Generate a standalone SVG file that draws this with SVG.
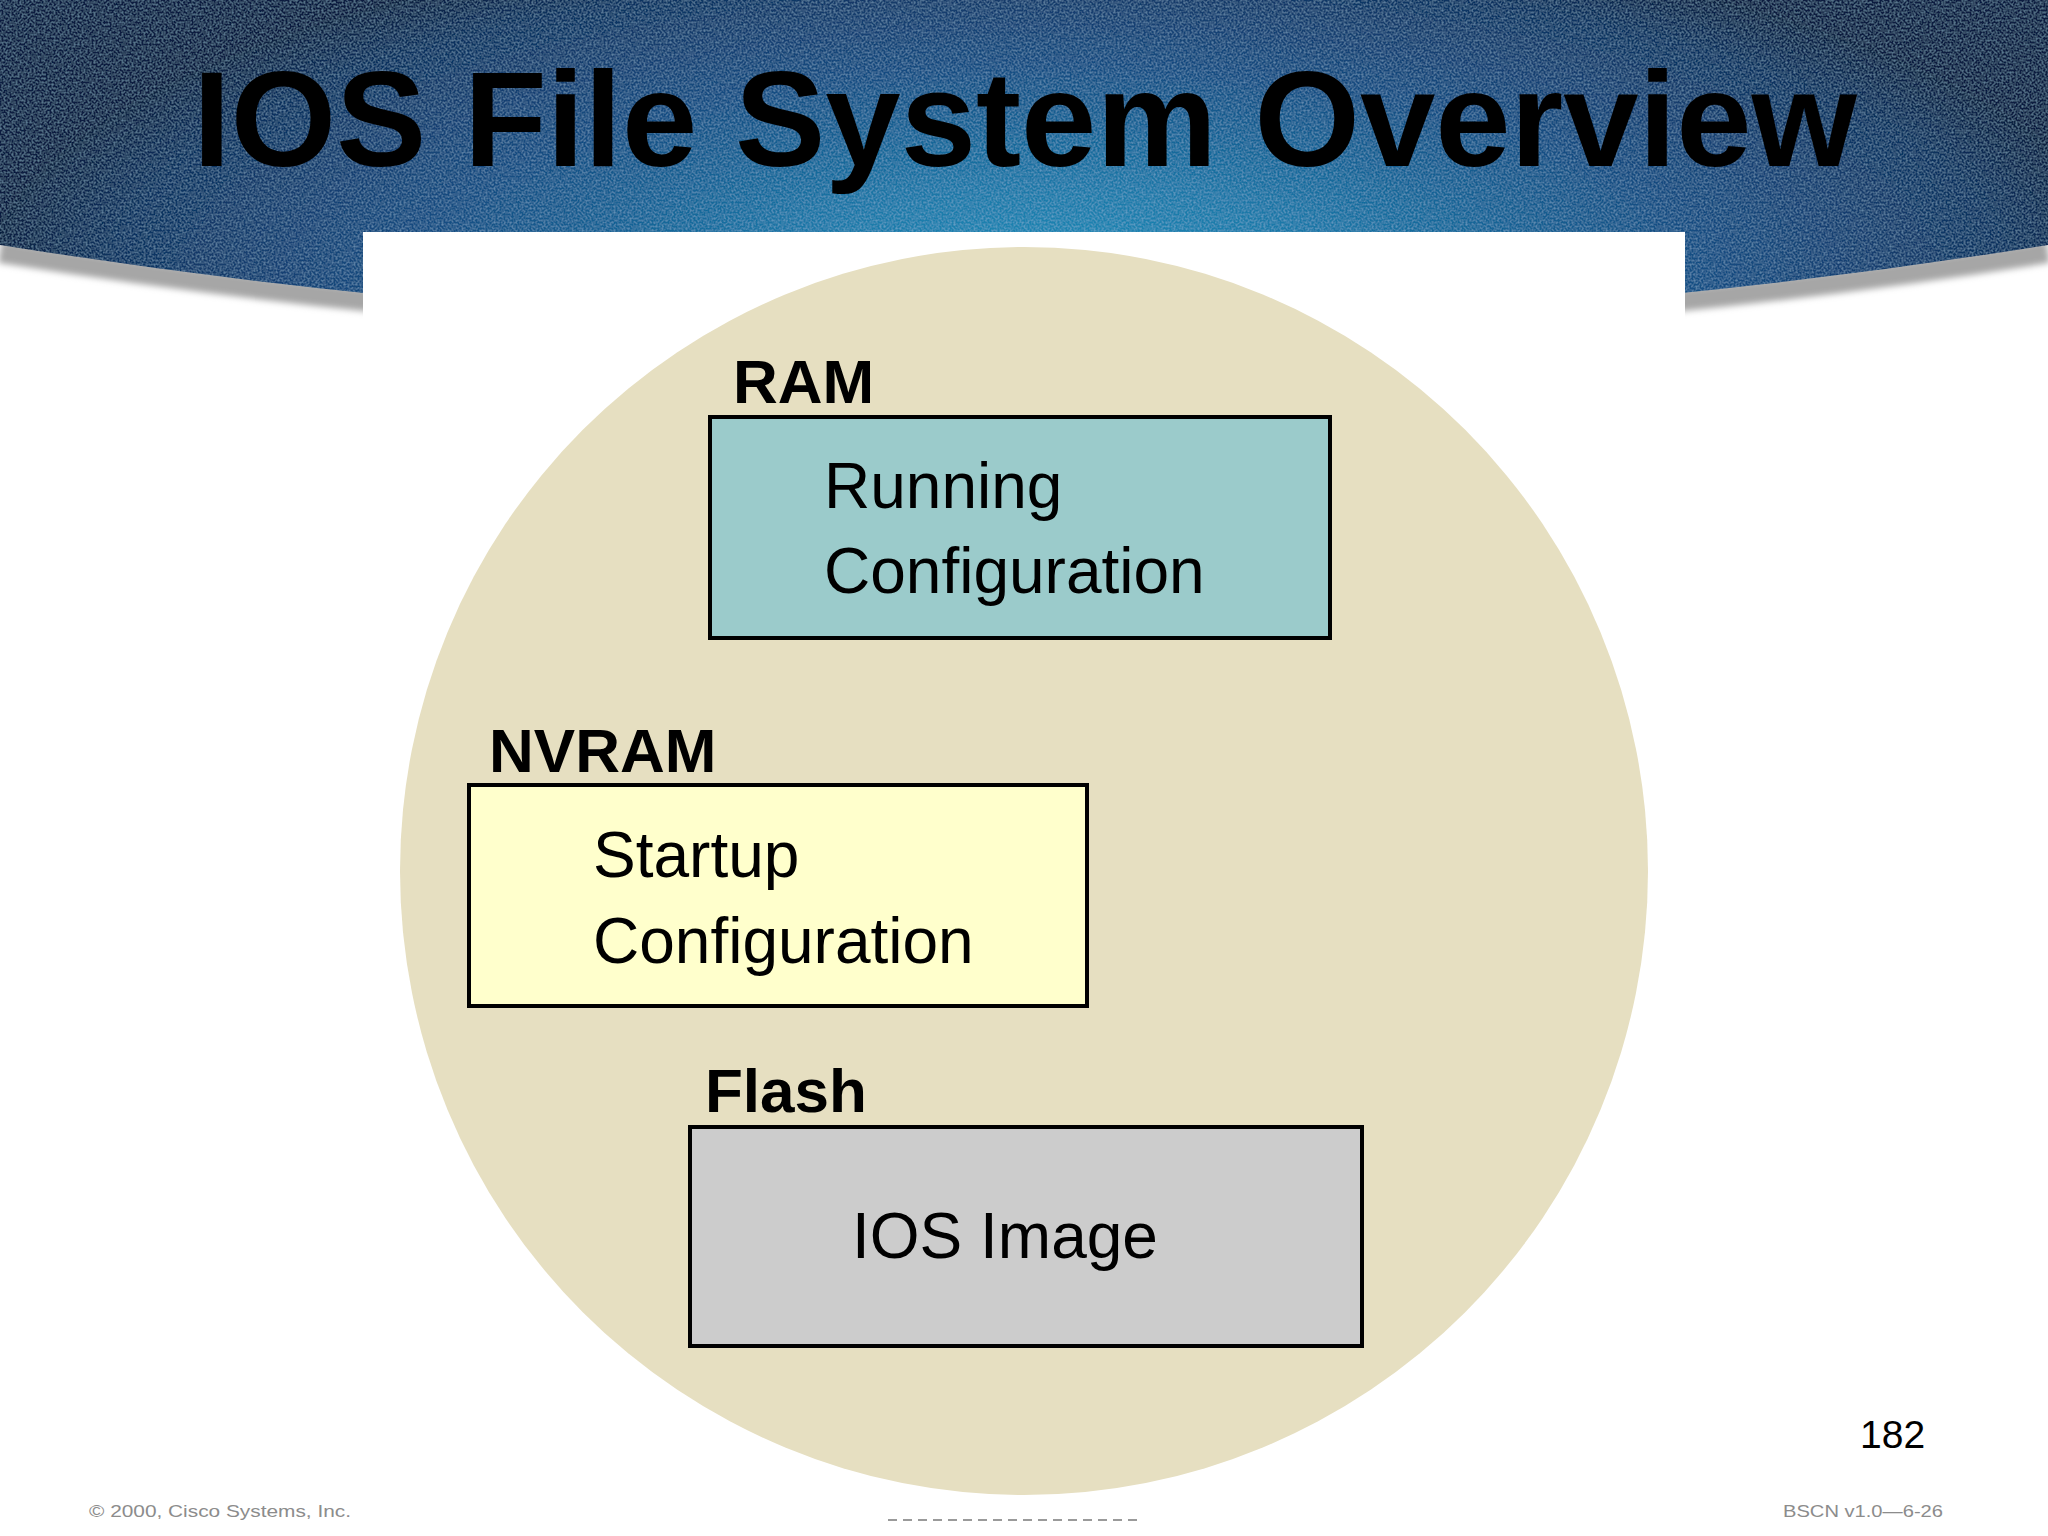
<svg xmlns="http://www.w3.org/2000/svg" width="2048" height="1536" viewBox="0 0 2048 1536">
  <defs>
    <radialGradient id="hdrGrad" gradientUnits="userSpaceOnUse" cx="1060" cy="290" r="1080" gradientTransform="translate(1060 290) scale(1 0.34) translate(-1060 -290)">
      <stop offset="0" stop-color="#1E93BD"/>
      <stop offset="0.3" stop-color="#1A76A6"/>
      <stop offset="0.62" stop-color="#164B80"/>
      <stop offset="0.88" stop-color="#10325F"/>
      <stop offset="1" stop-color="#0A1F40"/>
    </radialGradient>
    <filter id="texture" x="0" y="0" width="1" height="1">
      <feTurbulence type="fractalNoise" baseFrequency="0.5" numOctaves="2" seed="7" result="noise"/>
      <feColorMatrix in="noise" type="matrix" values="0 0 0 0 0.35  0 0 0 0 0.62  0 0 0 0 0.85  0.7 0 0 0 -0.27" result="spk"/>
      <feComposite in="spk" in2="SourceAlpha" operator="in" result="spkIn"/>
      <feMerge>
        <feMergeNode in="SourceGraphic"/>
        <feMergeNode in="spkIn"/>
      </feMerge>
    </filter>
    <filter id="soft" x="-0.05" y="-1" width="1.1" height="3">
      <feGaussianBlur stdDeviation="3"/>
    </filter>
    <style>
      .box { stroke: #000; stroke-width: 4; }
      .label { font-family: "Liberation Sans", Arial, sans-serif; font-weight: bold; font-size: 62px; fill: #000; }
      .body { font-family: "Liberation Sans", Arial, sans-serif; font-size: 64px; fill: #000; }
      .foot { font-family: "Liberation Sans", Arial, sans-serif; font-size: 17px; fill: #8C8C8C; }
    </style>
  </defs>

  <rect x="0" y="0" width="2048" height="1536" fill="#FFFFFF"/>

  <!-- header band -->
  <g id="header">
    <path d="M0,252 Q1024,416 2048,252" fill="none" stroke="#A6A6A6" stroke-width="22" filter="url(#soft)"/>
    <path d="M0,0 H2048 V245 Q1024,409 0,245 Z" fill="url(#hdrGrad)" filter="url(#texture)"/>
  </g>

  <!-- white content panel -->
  <rect x="363" y="232" width="1322" height="1304" fill="#FFFFFF"/>

  <text x="193" y="166" font-family="'Liberation Sans', Arial, sans-serif" font-weight="bold" font-size="136" fill="#000" textLength="1664" lengthAdjust="spacingAndGlyphs">IOS File System Overview</text>

  <!-- memory circle -->
  <circle id="memory-circle" cx="1024" cy="871" r="624" fill="#E6DFC1"/>

  <g id="connectors"></g>

  <g id="ram">
    <text class="label" x="733" y="403">RAM</text>
    <rect class="box" x="710" y="417" width="620" height="221" fill="#9BCBCB"/>
    <text class="body" x="824" y="508">Running</text>
    <text class="body" x="824" y="593">Configuration</text>
  </g>

  <g id="nvram">
    <text class="label" x="489" y="772">NVRAM</text>
    <rect class="box" x="469" y="785" width="618" height="221" fill="#FFFFCC"/>
    <text class="body" x="593" y="877">Startup</text>
    <text class="body" x="593" y="963">Configuration</text>
  </g>

  <g id="flash">
    <text class="label" x="705" y="1112">Flash</text>
    <rect class="box" x="690" y="1127" width="672" height="219" fill="#CCCCCC"/>
    <text class="body" x="852" y="1258">IOS Image</text>
  </g>

  <text x="1860" y="1448" font-family="'Liberation Sans', Arial, sans-serif" font-size="39" fill="#000">182</text>

  <g id="footer">
    <text class="foot" x="89" y="1517" textLength="262" lengthAdjust="spacingAndGlyphs">© 2000, Cisco Systems, Inc.</text>
    <line x1="888" y1="1520" x2="1137" y2="1520" stroke="#9A9A9A" stroke-width="2" stroke-dasharray="9 6"/>
    <text class="foot" x="1783" y="1517" textLength="160" lengthAdjust="spacingAndGlyphs">BSCN v1.0—6-26</text>
  </g>
</svg>
